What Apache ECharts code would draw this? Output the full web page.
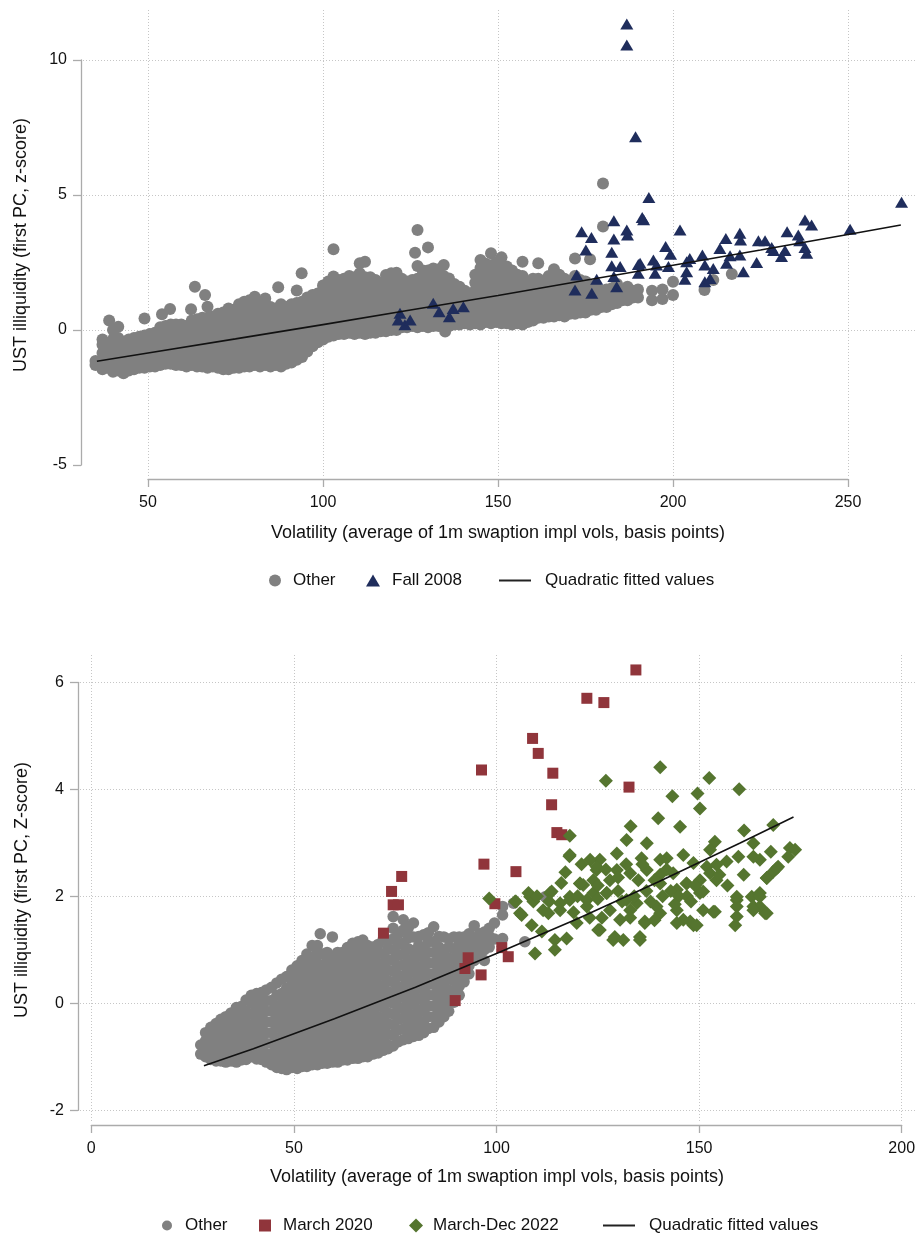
<!DOCTYPE html>
<html>
<head>
<meta charset="utf-8">
<script src="https://cdn.jsdelivr.net/npm/echarts@6/dist/echarts.min.js"></script>
<style>
  html, body { margin: 0; padding: 0; background: #fff; }
  #chart { width: 919px; height: 1236px; }
</style>
</head>
<body>
<div id="chart"></div>
<script>
// ---- top panel: Fall 2008 ----
// gray cloud, read column by column: [x, [y values]]
var otherTop = [
  [35, [-1.3, -1.15]],
  [37, [-1.45, -1.15, -0.85, -0.55, -0.35]],
  [38.5, [-1.4, -1.1, -0.8, -0.5]],
  [38.9, [0.35]],
  [40, [-1.55, -1.25, -0.95, -0.65, -0.35, 0.0]],
  [41.5, [-1.5, -1.2, -0.9, -0.6, -0.3, 0.12]],
  [43, [-1.6, -1.3, -1.0, -0.7, -0.45]],
  [44.5, [-1.5, -1.2, -0.9, -0.6, -0.35]],
  [46, [-1.45, -1.15, -0.85, -0.55, -0.3]],
  [47.5, [-1.4, -1.1, -0.8, -0.5, -0.25]],
  [49, [-1.4, -1.1, -0.8, -0.5, -0.2, 0.43]],
  [50.5, [-1.35, -1.05, -0.75, -0.45, -0.15]],
  [52, [-1.35, -1.05, -0.75, -0.45, -0.1]],
  [53.5, [-1.3, -1.0, -0.7, -0.4, -0.1, 0.1]],
  [54, [0.58]],
  [55, [-1.25, -0.95, -0.65, -0.35, -0.05, 0.15]],
  [56.3, [0.78]],
  [56.5, [-1.25, -0.95, -0.65, -0.35, -0.05, 0.2]],
  [58, [-1.3, -1.0, -0.7, -0.4, -0.1, 0.2]],
  [59.5, [-1.3, -1.0, -0.7, -0.4, -0.1, 0.2]],
  [61, [-1.35, -1.05, -0.75, -0.45, -0.15, 0.15]],
  [62.3, [0.77]],
  [62.5, [-1.3, -1.0, -0.7, -0.4, -0.1, 0.2, 0.35]],
  [63.4, [1.6]],
  [64, [-1.35, -1.05, -0.75, -0.45, -0.15, 0.15, 0.4]],
  [65.5, [-1.35, -1.05, -0.75, -0.45, -0.15, 0.15, 0.45]],
  [66.3, [1.3]],
  [67, [-1.4, -1.1, -0.8, -0.5, -0.2, 0.1, 0.45, 0.86]],
  [68.5, [-1.35, -1.05, -0.75, -0.45, -0.15, 0.15, 0.5]],
  [70, [-1.4, -1.1, -0.8, -0.5, -0.2, 0.1, 0.4, 0.6]],
  [71.5, [-1.45, -1.15, -0.85, -0.55, -0.25, 0.05, 0.35, 0.65]],
  [73, [-1.45, -1.15, -0.85, -0.55, -0.25, 0.05, 0.35, 0.65, 0.8]],
  [74.5, [-1.4, -1.1, -0.8, -0.5, -0.2, 0.1, 0.4, 0.75]],
  [76, [-1.4, -1.1, -0.8, -0.5, -0.2, 0.1, 0.4, 0.7, 0.95]],
  [77.5, [-1.35, -1.05, -0.75, -0.45, -0.15, 0.15, 0.45, 0.8, 1.05]],
  [79, [-1.35, -1.05, -0.75, -0.45, -0.15, 0.15, 0.45, 0.75, 1.1]],
  [80.5, [-1.3, -1.0, -0.7, -0.4, -0.1, 0.2, 0.5, 0.85, 1.23]],
  [82, [-1.35, -1.05, -0.75, -0.45, -0.15, 0.15, 0.45, 0.75, 1.0]],
  [83.5, [-1.3, -1.0, -0.7, -0.4, -0.1, 0.2, 0.5, 0.85, 1.17]],
  [85, [-1.35, -1.05, -0.75, -0.45, -0.15, 0.15, 0.45, 0.85]],
  [86.5, [-1.3, -1.0, -0.7, -0.4, -0.1, 0.2, 0.5, 0.8]],
  [87.2, [1.58]],
  [88, [-1.35, -1.05, -0.75, -0.45, -0.15, 0.15, 0.45, 0.75, 0.95]],
  [89.5, [-1.25, -0.95, -0.65, -0.35, -0.05, 0.25, 0.55, 0.85]],
  [91, [-1.2, -0.9, -0.6, -0.3, 0.0, 0.3, 0.6, 0.95]],
  [92.5, [-1.1, -0.8, -0.5, -0.2, 0.1, 0.4, 0.7, 1.0, 1.46]],
  [93.9, [2.1]],
  [94, [-1.0, -0.7, -0.4, -0.1, 0.2, 0.5, 0.8, 1.05]],
  [95.5, [-0.8, -0.5, -0.2, 0.1, 0.4, 0.7, 1.0, 1.2]],
  [97, [-0.6, -0.3, 0.0, 0.3, 0.6, 0.9, 1.3]],
  [98.5, [-0.45, -0.15, 0.15, 0.45, 0.75, 1.05, 1.35]],
  [100, [-0.35, -0.05, 0.25, 0.55, 0.85, 1.15, 1.45, 1.65]],
  [101.5, [-0.25, 0.05, 0.35, 0.65, 0.95, 1.25, 1.55, 1.8]],
  [103, [-0.2, 0.1, 0.4, 0.7, 1.0, 1.3, 1.6, 1.98, 2.99]],
  [104.5, [-0.15, 0.15, 0.45, 0.75, 1.05, 1.35, 1.65, 1.85]],
  [106, [-0.15, 0.15, 0.45, 0.75, 1.05, 1.35, 1.65, 1.9]],
  [107.5, [-0.1, 0.2, 0.5, 0.8, 1.1, 1.4, 1.7, 2.0]],
  [109, [-0.15, 0.15, 0.45, 0.75, 1.05, 1.35, 1.65, 1.95]],
  [110.5, [-0.1, 0.2, 0.5, 0.8, 1.1, 1.4, 1.7, 2.1, 2.47]],
  [112, [-0.15, 0.15, 0.45, 0.75, 1.05, 1.35, 1.65, 1.95, 2.53]],
  [113.5, [-0.1, 0.2, 0.5, 0.8, 1.1, 1.4, 1.7, 1.95]],
  [115, [-0.1, 0.2, 0.5, 0.8, 1.1, 1.4, 1.7, 1.85]],
  [116.5, [-0.05, 0.25, 0.55, 0.85, 1.15, 1.45, 1.75]],
  [118, [-0.05, 0.25, 0.55, 0.85, 1.15, 1.45, 1.75, 2.04]],
  [119.5, [0.0, 0.3, 0.6, 0.9, 1.2, 1.5, 1.8, 2.1]],
  [121, [0.0, 0.3, 0.6, 0.9, 1.2, 1.5, 1.8, 2.12]],
  [122.5, [0.1, 0.4, 0.7, 1.0, 1.3, 1.6, 1.9]],
  [124, [0.1, 0.4, 0.7, 1.0, 1.3, 1.6, 1.8]],
  [125.5, [0.15, 0.45, 0.75, 1.05, 1.35, 1.65, 1.85]],
  [126.3, [2.86]],
  [127, [0.1, 0.4, 0.7, 1.0, 1.3, 1.6, 1.9, 2.37, 3.7]],
  [128.5, [0.15, 0.45, 0.75, 1.05, 1.35, 1.65, 1.95, 2.2]],
  [130, [0.1, 0.4, 0.7, 1.0, 1.3, 1.6, 1.9, 2.2, 3.06]],
  [131.5, [0.15, 0.45, 0.75, 1.05, 1.35, 1.65, 1.95, 2.28]],
  [133, [0.15, 0.45, 0.75, 1.05, 1.35, 1.65, 1.95, 2.25]],
  [134.5, [0.2, 0.5, 0.8, 1.1, 1.4, 1.7, 2.0, 2.41]],
  [134.9, [-0.06]],
  [136, [0.15, 0.45, 0.75, 1.05, 1.35, 1.65, 1.91]],
  [137.5, [0.2, 0.5, 0.8, 1.1, 1.4, 1.7]],
  [139, [0.2, 0.5, 0.8, 1.1, 1.4, 1.6]],
  [140.5, [0.25, 0.55, 0.85, 1.15, 1.45]],
  [142, [0.2, 0.5, 0.8, 1.1, 1.36]],
  [143.5, [0.25, 0.55, 0.85, 1.15, 1.45, 1.75, 2.05]],
  [145, [0.2, 0.5, 0.8, 1.1, 1.4, 1.7, 2.0, 2.3, 2.59]],
  [146.5, [0.3, 0.6, 0.9, 1.2, 1.5, 1.8, 2.1, 2.45]],
  [148, [0.25, 0.55, 0.85, 1.15, 1.45, 1.75, 2.05, 2.4, 2.84]],
  [149.5, [0.3, 0.6, 0.9, 1.2, 1.5, 1.8, 2.1, 2.5]],
  [151, [0.25, 0.55, 0.85, 1.15, 1.45, 1.75, 2.05, 2.35, 2.69]],
  [152.5, [0.25, 0.55, 0.85, 1.15, 1.45, 1.75, 2.05, 2.35]],
  [154, [0.2, 0.5, 0.8, 1.1, 1.4, 1.7, 2.0, 2.2]],
  [155.5, [0.25, 0.55, 0.85, 1.15, 1.45, 1.75, 2.05]],
  [157, [0.2, 0.5, 0.8, 1.1, 1.4, 1.7, 2.0, 2.53]],
  [158.5, [0.3, 0.6, 0.9, 1.2, 1.5, 1.8]],
  [160, [0.35, 0.65, 0.95, 1.25, 1.55, 1.9]],
  [161.5, [0.45, 0.75, 1.05, 1.35, 1.65, 1.9, 2.47]],
  [163, [0.45, 0.75, 1.05, 1.35, 1.65, 1.8]],
  [164.5, [0.5, 0.8, 1.1, 1.4, 1.7, 2.0]],
  [166, [0.5, 0.8, 1.1, 1.4, 1.7, 2.0, 2.25]],
  [167.5, [0.55, 0.85, 1.15, 1.45, 1.75, 2.05]],
  [169, [0.5, 0.8, 1.1, 1.4, 1.7, 1.9]],
  [170.5, [0.6, 0.9, 1.2, 1.5, 1.8]],
  [172, [0.6, 0.9, 1.2, 1.5, 1.8, 2.0, 2.65]],
  [173.5, [0.65, 0.95, 1.25, 1.55, 1.85]],
  [175, [0.65, 0.95, 1.25, 1.55, 1.8]],
  [176.3, [2.62]],
  [176.5, [0.75, 1.05, 1.35, 1.65]],
  [178, [0.75, 1.05, 1.35, 1.6]],
  [179.5, [0.85, 1.15, 1.45]],
  [180, [3.83, 5.43]],
  [181, [0.85, 1.15, 1.5]],
  [182.5, [0.95, 1.25, 1.55]],
  [184, [1.0, 1.3, 1.7]],
  [185.5, [1.1, 1.4]],
  [187, [1.1, 1.4, 1.6]],
  [188.5, [1.2, 1.45]],
  [190, [1.2, 1.5]],
  [194, [1.1, 1.45]],
  [197, [1.15, 1.5]],
  [200, [1.3, 1.79]],
  [209, [1.48]],
  [211.5, [1.85]],
  [216.8, [2.07]]
];

var fall2008 = [
  [186.8, 11.33], [186.8, 10.56], [189.3, 7.16], [193.1, 4.91], [191.2, 4.17], [191.6, 4.08],
  [183.1, 4.05], [173.9, 3.64], [176.7, 3.43], [186.8, 3.70], [187.0, 3.52], [183.1, 3.37],
  [202, 3.70], [175.1, 2.96], [182.5, 2.88], [197.9, 3.09], [199.3, 2.81], [182.5, 2.38],
  [184.9, 2.35], [190.1, 2.43], [190.6, 2.47], [194.4, 2.59], [195.3, 2.41], [172.5, 2.04],
  [178.2, 1.88], [183.1, 1.98], [172, 1.48], [176.8, 1.36], [183.9, 1.60], [190.1, 2.10],
  [194.9, 2.10], [198.7, 2.35], [203.9, 2.53], [204.8, 2.65], [203.9, 2.16], [203.4, 1.88],
  [208.4, 2.78], [209.1, 2.41], [209.1, 1.79], [210.6, 1.91], [211.5, 2.28], [213.4, 3.02],
  [215.1, 3.39], [215.3, 2.47], [216.3, 2.75], [219.1, 3.58], [219.3, 3.33], [219.1, 2.78],
  [220.1, 2.16], [223.9, 2.50], [224.4, 3.31], [226.3, 3.31], [228.2, 3.06], [228.7, 2.94],
  [231, 2.72], [232, 2.94], [232.6, 3.64], [235.8, 3.52], [236.2, 3.31], [237.7, 4.07],
  [239.6, 3.89], [237.7, 3.06], [238.2, 2.84], [250.6, 3.73], [265.3, 4.73],
  [122, 0.62], [121.5, 0.37], [123.4, 0.19], [124.9, 0.37], [131.5, 0.99], [133.2, 0.68],
  [136.1, 0.49], [137.2, 0.80], [140.1, 0.86]
];

var fitTopX = [35.4, 50, 75, 100, 125, 150, 175, 200, 225, 250, 265.1];
var fitTopY = [-1.16, -0.85, -0.33, 0.2, 0.74, 1.28, 1.84, 2.4, 2.96, 3.54, 3.89];

var xTicksTop = [50, 250, 50];   // min, max, step
var yTicksTop = [-5, 10, 5];

// ---- bottom panel: 2020 / 2022 ----
var otherBot = [
  [27, [-0.95, -0.78]],
  [28.2, [-1.0, -0.9, -0.7, -0.55]],
  [29.5, [-1.05, -0.85, -0.65, -0.45]],
  [30.8, [-1.08, -0.95, -0.75, -0.55, -0.38]],
  [32, [-1.08, -0.88, -0.68, -0.48, -0.3]],
  [33.2, [-1.1, -0.98, -0.78, -0.58, -0.38, -0.25]],
  [34.5, [-1.08, -0.9, -0.7, -0.5, -0.3, -0.18]],
  [35.8, [-1.1, -1.0, -0.8, -0.6, -0.4, -0.2, -0.08]],
  [37, [-1.06, -0.86, -0.66, -0.46, -0.26, -0.06]],
  [38.2, [-1.05, -0.96, -0.76, -0.56, -0.36, -0.16, 0.06]],
  [39.5, [-1.0, -0.8, -0.6, -0.4, -0.2, 0.0, 0.15]],
  [40.8, [-1.04, -0.9, -0.7, -0.5, -0.3, -0.1, 0.1, 0.18]],
  [42, [-1.05, -0.85, -0.65, -0.45, -0.25, -0.05, 0.2]],
  [43.2, [-1.1, -0.95, -0.75, -0.55, -0.35, -0.15, 0.05, 0.25]],
  [44.5, [-1.15, -0.95, -0.75, -0.55, -0.35, -0.15, 0.05, 0.3]],
  [45.8, [-1.2, -1.05, -0.85, -0.65, -0.45, -0.25, -0.05, 0.15, 0.38]],
  [47, [-1.22, -1.02, -0.82, -0.62, -0.42, -0.22, -0.02, 0.18, 0.45]],
  [48.2, [-1.24, -1.12, -0.92, -0.72, -0.52, -0.32, -0.12, 0.08, 0.28, 0.5]],
  [49.5, [-1.2, -1.0, -0.8, -0.6, -0.4, -0.2, 0.0, 0.2, 0.4, 0.62]],
  [50.8, [-1.22, -1.1, -0.9, -0.7, -0.5, -0.3, -0.1, 0.1, 0.3, 0.5, 0.7]],
  [52, [-1.18, -0.98, -0.78, -0.58, -0.38, -0.18, 0.02, 0.22, 0.42, 0.62, 0.8]],
  [53.2, [-1.18, -1.08, -0.88, -0.68, -0.48, -0.28, -0.08, 0.12, 0.32, 0.52, 0.72, 0.92]],
  [54.5, [-1.15, -0.95, -0.75, -0.55, -0.35, -0.15, 0.05, 0.25, 0.45, 0.65, 0.85, 1.08]],
  [55.8, [-1.15, -1.05, -0.85, -0.65, -0.45, -0.25, -0.05, 0.15, 0.35, 0.55, 0.75, 0.95, 1.08]],
  [56.5, [1.3]],
  [57, [-1.12, -0.92, -0.72, -0.52, -0.32, -0.12, 0.08, 0.28, 0.48, 0.68, 0.92]],
  [58.2, [-1.12, -1.02, -0.82, -0.62, -0.42, -0.22, -0.02, 0.18, 0.38, 0.58, 0.78, 0.95]],
  [59.5, [-1.1, -0.9, -0.7, -0.5, -0.3, -0.1, 0.1, 0.3, 0.5, 0.7, 0.88, 1.24]],
  [60.8, [-1.1, -1.0, -0.8, -0.6, -0.4, -0.2, 0.0, 0.2, 0.4, 0.6, 0.8, 0.95]],
  [62, [-1.06, -0.86, -0.66, -0.46, -0.26, -0.06, 0.14, 0.34, 0.54, 0.74, 0.95]],
  [63.2, [-1.06, -0.96, -0.76, -0.56, -0.36, -0.16, 0.04, 0.24, 0.44, 0.64, 0.84, 1.04]],
  [64.5, [-1.03, -0.83, -0.63, -0.43, -0.23, -0.03, 0.17, 0.37, 0.57, 0.77, 0.97, 1.12]],
  [65.8, [-1.03, -0.93, -0.73, -0.53, -0.33, -0.13, 0.07, 0.27, 0.47, 0.67, 0.87, 1.07, 1.15]],
  [67, [-1.0, -0.8, -0.6, -0.4, -0.2, 0.0, 0.2, 0.4, 0.6, 0.8, 1.0, 1.18]],
  [68.2, [-1.0, -0.9, -0.7, -0.5, -0.3, -0.1, 0.1, 0.3, 0.5, 0.7, 0.9, 1.08]],
  [69.5, [-0.95, -0.75, -0.55, -0.35, -0.15, 0.05, 0.25, 0.45, 0.65, 0.85, 1.05]],
  [70.8, [-0.93, -0.85, -0.65, -0.45, -0.25, -0.05, 0.15, 0.35, 0.55, 0.75, 0.95, 1.1]],
  [72, [-0.88, -0.68, -0.48, -0.28, -0.08, 0.12, 0.32, 0.52, 0.72, 0.92, 1.18]],
  [73.2, [-0.85, -0.78, -0.58, -0.38, -0.18, 0.02, 0.22, 0.42, 0.62, 0.82, 1.02, 1.18]],
  [74.5, [-0.8, -0.6, -0.4, -0.2, 0.0, 0.2, 0.4, 0.6, 0.8, 1.0, 1.2, 1.4, 1.62]],
  [75.8, [-0.72, -0.5, -0.3, -0.1, 0.1, 0.3, 0.5, 0.7, 0.9, 1.1, 1.3]],
  [77, [-0.68, -0.48, -0.28, -0.08, 0.12, 0.32, 0.52, 0.72, 0.92, 1.12, 1.37, 1.56]],
  [78.2, [-0.66, -0.58, -0.38, -0.18, 0.02, 0.22, 0.42, 0.62, 0.82, 1.02, 1.22, 1.4]],
  [79.5, [-0.62, -0.42, -0.22, -0.02, 0.18, 0.38, 0.58, 0.78, 0.98, 1.24, 1.5]],
  [80.8, [-0.6, -0.52, -0.32, -0.12, 0.08, 0.28, 0.48, 0.68, 0.88, 1.08, 1.25]],
  [82, [-0.55, -0.35, -0.15, 0.05, 0.25, 0.45, 0.65, 0.85, 1.05, 1.28]],
  [83.2, [-0.47, -0.25, -0.05, 0.15, 0.35, 0.55, 0.75, 0.95, 1.15, 1.32]],
  [84.5, [-0.45, -0.25, -0.05, 0.15, 0.35, 0.55, 0.75, 0.95, 1.15, 1.43]],
  [85.8, [-0.35, -0.15, 0.05, 0.25, 0.45, 0.65, 0.85, 1.05, 1.25]],
  [87, [-0.25, -0.05, 0.15, 0.35, 0.55, 0.75, 0.95, 1.24]],
  [88.2, [-0.15, 0.05, 0.25, 0.45, 0.65, 0.85, 1.05, 1.2]],
  [89.5, [0.02, 0.22, 0.42, 0.62, 0.82, 1.02, 1.24]],
  [90.8, [0.15, 0.32, 0.52, 0.72, 0.92, 1.12, 1.24]],
  [92, [0.4, 0.6, 0.8, 1.0, 1.24]],
  [93.2, [0.55, 0.7, 0.9, 1.1, 1.3]],
  [94.5, [0.8, 1.0, 1.2, 1.45]],
  [95.8, [0.9, 1.1, 1.3]],
  [97, [0.8, 1.0, 1.2, 1.33]],
  [98.2, [1.05, 1.25, 1.4]],
  [99.5, [1.2, 1.5]],
  [101.5, [1.21, 1.65, 1.81]],
  [104.2, [1.87]],
  [107, [1.15]],
  [112, [1.99]]
];

var march2020 = [
  [76.6, 2.37], [74.1, 2.09], [74.5, 1.84], [75.8, 1.84], [72.1, 1.31], [134.4, 6.23],
  [122.3, 5.70], [126.5, 5.62], [108.9, 4.95], [110.3, 4.67], [96.3, 4.36], [113.9, 4.30],
  [132.7, 4.04], [113.6, 3.71], [114.9, 3.19], [116.1, 3.15], [96.9, 2.60], [104.8, 2.46],
  [99.6, 1.86], [101.3, 1.04], [102.9, 0.87], [96.2, 0.53], [93, 0.85], [92.2, 0.65], [89.8, 0.05]
];

var marchDec2022 = [
  [140.4, 4.41], [127, 4.16], [152.5, 4.21], [159.9, 4.0], [143.4, 3.87], [149.6, 3.92],
  [150.2, 3.64], [139.9, 3.46], [145.3, 3.3], [133.1, 3.31], [168.3, 3.33], [161.1, 3.23],
  [118.1, 3.13], [137.1, 2.99], [132.1, 3.05], [153.9, 3.02], [152.7, 2.87], [163.4, 2.99],
  [167.7, 2.83], [172.4, 2.9], [173.7, 2.87], [172, 2.74], [169.5, 2.55], [168.3, 2.46],
  [166.7, 2.34], [165, 2.68], [163.4, 2.74], [159.7, 2.74], [156.8, 2.65], [154.3, 2.59],
  [151.9, 2.55], [148.6, 2.62], [146.1, 2.77], [142, 2.71], [140.4, 2.68], [135.8, 2.71],
  [129.7, 2.8], [125.5, 2.68], [123.1, 2.68], [118, 2.75], [129.7, 2.49], [133, 2.43],
  [137.1, 2.49], [140.4, 2.4], [143.6, 2.43], [146.9, 2.24], [150.2, 2.3], [150.2, 2.06],
  [154.3, 2.3], [159.3, 1.93], [159.3, 1.81], [159.3, 1.62], [158.9, 1.46], [163, 1.99],
  [165, 2.06], [163.4, 1.81], [166.3, 1.68], [165, 1.81], [151, 1.74], [153.5, 1.71],
  [148.6, 1.46], [146.1, 1.56], [144.5, 1.74], [140.4, 1.68], [136.6, 1.5], [133, 1.74],
  [130.5, 1.56], [129.2, 1.24], [125.5, 1.37], [135.4, 1.24], [122.3, 1.81], [123.9, 2.06],
  [127.2, 2.06], [118.1, 1.99], [115.7, 1.87], [113.2, 2.06], [111.5, 1.74], [108.3, 1.99],
  [105.8, 1.68], [104.6, 1.9], [98.2, 1.96], [120.6, 2.24], [123.9, 2.3], [124.7, 2.49],
  [118.1, 2.77], [104.8, 1.9], [107.9, 2.06], [109.1, 1.9], [113.6, 2.09], [106.2, 1.65],
  [108.7, 1.46], [109.5, 0.93], [112.8, 1.68], [115.7, 1.74], [118.1, 1.93], [114.4, 1.18],
  [114.4, 1.0], [117.3, 1.21], [111.2, 1.34], [119.8, 1.5], [121.4, 2.21], [125.1, 1.37],
  [122.3, 1.93], [128, 1.74], [128.8, 1.18], [131.3, 1.18], [135.4, 1.18], [127.2, 2.06],
  [132.1, 1.93], [134.6, 1.87], [136.6, 1.53], [139.5, 1.81], [144.5, 1.5], [147.8, 1.53],
  [149.4, 1.46], [151, 2.09], [153.9, 1.71], [152.7, 2.43], [159.3, 1.99], [163.4, 1.74],
  [165, 1.99], [166.7, 1.68], [166.7, 2.34], [169.1, 2.52], [140.4, 2.24], [144.5, 2.12],
  [146.9, 2.24], [124.7, 2.55], [120.6, 2.24],
  [125, 2.2], [128, 2.3], [130, 2.1], [132, 2.6], [135, 2.3], [137, 2.1], [139, 2.3],
  [141, 2.0], [143, 2.1], [145, 2.0], [130, 2.35], [127, 2.5], [125, 1.95], [134, 2.0],
  [136, 2.6], [138, 1.9], [142, 2.5], [147, 2.0], [149, 2.2], [120, 2.0], [117, 2.45],
  [121, 2.6], [126, 1.6], [133, 1.6], [139, 1.55], [144, 1.85], [155, 2.4], [157, 2.2],
  [161, 2.4], [148, 1.9], [131, 1.9], [123, 1.6], [119, 1.7], [116, 2.25], [113, 1.9], [110, 2.0]
];

var fitBotX = [27.8, 40, 60, 80, 100, 120, 140, 160, 173.3];
var fitBotY = [-1.17, -0.85, -0.29, 0.3, 0.93, 1.58, 2.27, 2.99, 3.48];

var xTicksBot = [0, 200, 50];
var yTicksBot = [-2, 6, 2];

var FONT = '"Liberation Sans", Arial, Helvetica, sans-serif';
var AXIS_GRAY = '#ababab';
var GRID_GRAY = '#c6c6c6';
var TXT = '#111';

function cols(list) {
  return list.flatMap(function (c) { return c[1].map(function (y) { return [c[0], y]; }); });
}
function zipXY(xs, ys) {
  return xs.map(function (x, i) { return [x, ys[i]]; });
}

// axis with line, ticks, labels and dotted split lines
function tickXAxis(gridIndex, t, offset) {
  return {
    type: 'value', gridIndex: gridIndex, min: t[0], max: t[1], interval: t[2], offset: offset,
    axisLine: { show: true, onZero: false, lineStyle: { color: AXIS_GRAY, width: 1.3 } },
    axisTick: { show: true, length: 8, lineStyle: { color: AXIS_GRAY, width: 1.3 } },
    axisLabel: { margin: 16, color: TXT, fontSize: 16, fontFamily: FONT },
    splitLine: { show: true, lineStyle: { color: GRID_GRAY, width: 1, type: [1, 2] } }
  };
}
function tickYAxis(gridIndex, t, offset, showMin) {
  return {
    type: 'value', gridIndex: gridIndex, min: t[0], max: t[1], interval: t[2], offset: offset,
    axisLine: { show: true, onZero: false, lineStyle: { color: AXIS_GRAY, width: 1.3 } },
    axisTick: { show: true, length: 8, lineStyle: { color: AXIS_GRAY, width: 1.3 } },
    axisLabel: { margin: 14, color: TXT, fontSize: 16, fontFamily: FONT },
    splitLine: { show: true, showMinLine: showMin, lineStyle: { color: GRID_GRAY, width: 1, type: [1, 2] } }
  };
}
function hiddenAxis(gridIndex, min, max) {
  return { type: 'value', gridIndex: gridIndex, show: false, min: min, max: max,
           splitLine: { show: false } };
}

function legendItem(name, left, top, w, h, pad, isLine) {
  var l = {
    data: [name], left: left, top: top, padding: 0, orient: 'horizontal',
    itemWidth: w, itemHeight: h, selectedMode: false,
    textStyle: { fontSize: 17, color: TXT, fontFamily: FONT, padding: [0, 0, 0, pad || 0] }
  };
  if (isLine) {
    l.lineStyle = { width: 2, color: '#222' };
    l.itemStyle = { opacity: 0 };
  }
  return l;
}

var titleStyle = { font: '18px ' + FONT, fill: TXT, align: 'center', verticalAlign: 'middle',
                   textAlign: 'center', textVerticalAlign: 'middle' };

var option = {
  animation: false,
  backgroundColor: '#fff',
  grid: [
    { left: 78, top: 6, width: 840, height: 459 },        // 0 top data (x 30..270, y -5..12)
    { left: 148, top: 10, width: 700, height: 467 },      // 1 top x axis + vertical grid lines
    { left: 83, top: 60, width: 834, height: 405 },       // 2 top y axis + horizontal grid lines
    { left: 91.3, top: 655.5, width: 810.4, height: 454.75 }, // 3 bottom data (x 0..200, y -2..6.5)
    { left: 91.3, top: 655, width: 810.4, height: 467 },  // 4 bottom x axis + vertical grid lines
    { left: 80, top: 682.3, width: 837, height: 428 }     // 5 bottom y axis + horizontal grid lines
  ],
  xAxis: [
    hiddenAxis(0, 30, 270), tickXAxis(1, xTicksTop, 2), hiddenAxis(2, 0, 1),
    hiddenAxis(3, 0, 200), tickXAxis(4, xTicksBot, 3), hiddenAxis(5, 0, 1)
  ],
  yAxis: [
    hiddenAxis(0, -5, 12), hiddenAxis(1, 0, 1), tickYAxis(2, yTicksTop, 2, false),
    hiddenAxis(3, -2, 6.5), hiddenAxis(4, 0, 1), tickYAxis(5, yTicksBot, 2, true)
  ],
  legend: [
    legendItem('Other', 269, 572, 12, 12, 7),
    legendItem('Fall 2008', 366, 572, 14, 12, 7),
    legendItem('Quadratic fitted values', 498, 572, 32, 12, 9, true),
    legendItem('Other', 162, 1217, 10, 10, 8),
    legendItem('March 2020', 259, 1217, 12, 12, 7),
    legendItem('March-Dec 2022', 409, 1217, 14, 14, 5),
    legendItem('Quadratic fitted values', 602, 1217, 32, 12, 9, true)
  ],
  graphic: [
    { type: 'text', x: 498, y: 533, style: Object.assign({ text: 'Volatility (average of 1m swaption impl vols, basis points)' }, titleStyle) },
    { type: 'text', x: 21, y: 245, rotation: Math.PI / 2, style: Object.assign({ text: 'UST illiquidity (first PC, z-score)' }, titleStyle) },
    { type: 'text', x: 497, y: 1177, style: Object.assign({ text: 'Volatility (average of 1m swaption impl vols, basis points)' }, titleStyle) },
    { type: 'text', x: 22, y: 890, rotation: Math.PI / 2, style: Object.assign({ text: 'UST illiquidity (first PC, Z-score)' }, titleStyle) }
  ],
  series: [
    { name: 'Other', type: 'scatter', xAxisIndex: 0, yAxisIndex: 0, clip: false,
      symbol: 'circle', symbolSize: 12, itemStyle: { color: '#808080', opacity: 1 },
      data: cols(otherTop) },
    { name: 'Fall 2008', type: 'scatter', xAxisIndex: 0, yAxisIndex: 0, clip: false,
      symbol: 'triangle', symbolSize: [13, 11], itemStyle: { color: '#1f2d5c', opacity: 1 },
      data: fall2008 },
    { name: 'Quadratic fitted values', type: 'line', xAxisIndex: 0, yAxisIndex: 0, clip: false,
      symbol: 'none', itemStyle: { color: '#111' }, lineStyle: { color: '#111', width: 1.6 },
      data: zipXY(fitTopX, fitTopY) },

    { name: 'Other', type: 'scatter', xAxisIndex: 3, yAxisIndex: 3, clip: false,
      symbol: 'circle', symbolSize: 11.5, itemStyle: { color: '#808080', opacity: 1 },
      data: cols(otherBot) },
    { name: 'March 2020', type: 'scatter', xAxisIndex: 3, yAxisIndex: 3, clip: false,
      symbol: 'rect', symbolSize: 11, itemStyle: { color: '#90353b', opacity: 1 },
      data: march2020 },
    { name: 'March-Dec 2022', type: 'scatter', xAxisIndex: 3, yAxisIndex: 3, clip: false,
      symbol: 'diamond', symbolSize: 14, itemStyle: { color: '#55752f', opacity: 1 },
      data: marchDec2022 },
    { name: 'Quadratic fitted values', type: 'line', xAxisIndex: 3, yAxisIndex: 3, clip: false,
      symbol: 'none', itemStyle: { color: '#111' }, lineStyle: { color: '#111', width: 1.6 },
      data: zipXY(fitBotX, fitBotY) }
  ]
};

var chart = echarts.init(document.getElementById('chart'), null, { renderer: 'canvas' });
chart.setOption(option);
</script>
</body>
</html>
